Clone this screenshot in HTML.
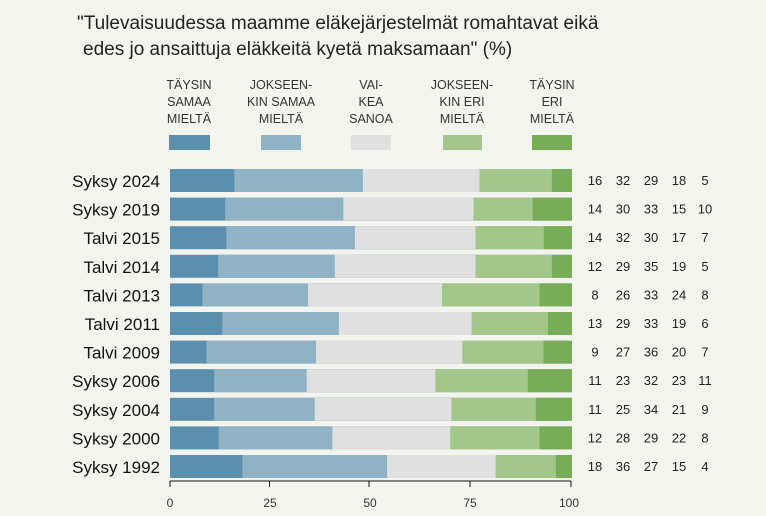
<!DOCTYPE html>
<html><head><meta charset="utf-8"><style>
body{margin:0;background:#f4f4ef;}
svg{display:block;font-family:"Liberation Sans","DejaVu Sans",sans-serif;}
.a{fill:#5a8fae}.b{fill:#8fb3c5}.c{fill:#e0e0e0}.d{fill:#a3c78a}.e{fill:#78ad58}
.n{font-size:13px;fill:#222;text-anchor:middle}
.l{font-size:17px;fill:#111;text-anchor:end}
</style></head><body>
<svg width="766" height="516" viewBox="0 0 766 516">
<rect width="766" height="516" fill="#f4f4ef"/>
<text x="77" y="29" font-size="19" fill="#222">"Tulevaisuudessa maamme eläkejärjestelmät romahtavat eikä</text>
<text x="83" y="55" font-size="19" fill="#222">edes jo ansaittuja eläkkeitä kyetä maksamaan" (%)</text>
<g font-size="12.5" fill="#333" text-anchor="middle">
<text x="189" y="89">TÄYSIN</text><text x="189" y="106">SAMAA</text><text x="189" y="123">MIELTÄ</text>
<text x="281" y="89">JOKSEEN-</text><text x="281" y="106">KIN SAMAA</text><text x="281" y="123">MIELTÄ</text>
<text x="371" y="89">VAI-</text><text x="371" y="106">KEA</text><text x="371" y="123">SANOA</text>
<text x="462" y="89">JOKSEEN-</text><text x="462" y="106">KIN ERI</text><text x="462" y="123">MIELTÄ</text>
<text x="552" y="89">TÄYSIN</text><text x="552" y="106">ERI</text><text x="552" y="123">MIELTÄ</text>
</g>
<rect x="169" y="135" width="41" height="15" class="a"/>
<rect x="261" y="135" width="40" height="15" class="b"/>
<rect x="351" y="135" width="40" height="15" class="c"/>
<rect x="443" y="135" width="39" height="15" class="d"/>
<rect x="532" y="135" width="40" height="15" class="e"/>

<!-- rows: layered rects from x_k to 572 -->
<g transform="translate(0,169)"><rect x="170" width="402" height="23" class="a"/><rect x="234.3" width="337.7" height="23" class="b"/><rect x="362.9" width="209.1" height="23" class="c"/><rect x="479.5" width="92.5" height="23" class="d"/><rect x="551.9" width="20.1" height="23" class="e"/>
<text x="160" y="18" class="l">Syksy 2024</text><text x="595" y="16" class="n">16</text><text x="623" y="16" class="n">32</text><text x="651" y="16" class="n">29</text><text x="679" y="16" class="n">18</text><text x="705" y="16" class="n">5</text></g>

<g transform="translate(0,197.6)"><rect x="170" width="402" height="23" class="a"/><rect x="225.2" width="346.8" height="23" class="b"/><rect x="343.4" width="228.6" height="23" class="c"/><rect x="473.5" width="98.5" height="23" class="d"/><rect x="532.6" width="39.4" height="23" class="e"/>
<text x="160" y="18" class="l">Syksy 2019</text><text x="595" y="16" class="n">14</text><text x="623" y="16" class="n">30</text><text x="651" y="16" class="n">33</text><text x="679" y="16" class="n">15</text><text x="705" y="16" class="n">10</text></g>

<g transform="translate(0,226.2)"><rect x="170" width="402" height="23" class="a"/><rect x="226.3" width="345.7" height="23" class="b"/><rect x="354.9" width="217.1" height="23" class="c"/><rect x="475.5" width="96.5" height="23" class="d"/><rect x="543.8" width="28.2" height="23" class="e"/>
<text x="160" y="18" class="l">Talvi 2015</text><text x="595" y="16" class="n">14</text><text x="623" y="16" class="n">32</text><text x="651" y="16" class="n">30</text><text x="679" y="16" class="n">17</text><text x="705" y="16" class="n">7</text></g>

<g transform="translate(0,254.8)"><rect x="170" width="402" height="23" class="a"/><rect x="218.2" width="353.8" height="23" class="b"/><rect x="334.8" width="237.2" height="23" class="c"/><rect x="475.5" width="96.5" height="23" class="d"/><rect x="551.9" width="20.1" height="23" class="e"/>
<text x="160" y="18" class="l">Talvi 2014</text><text x="595" y="16" class="n">12</text><text x="623" y="16" class="n">29</text><text x="651" y="16" class="n">35</text><text x="679" y="16" class="n">19</text><text x="705" y="16" class="n">5</text></g>

<g transform="translate(0,283.4)"><rect x="170" width="402" height="23" class="a"/><rect x="202.5" width="369.5" height="23" class="b"/><rect x="308.1" width="263.9" height="23" class="c"/><rect x="442.1" width="129.9" height="23" class="d"/><rect x="539.6" width="32.4" height="23" class="e"/>
<text x="160" y="18" class="l">Talvi 2013</text><text x="595" y="16" class="n">8</text><text x="623" y="16" class="n">26</text><text x="651" y="16" class="n">33</text><text x="679" y="16" class="n">24</text><text x="705" y="16" class="n">8</text></g>

<g transform="translate(0,312)"><rect x="170" width="402" height="23" class="a"/><rect x="222.3" width="349.7" height="23" class="b"/><rect x="338.9" width="233.1" height="23" class="c"/><rect x="471.6" width="100.4" height="23" class="d"/><rect x="548" width="24" height="23" class="e"/>
<text x="160" y="18" class="l">Talvi 2011</text><text x="595" y="16" class="n">13</text><text x="623" y="16" class="n">29</text><text x="651" y="16" class="n">33</text><text x="679" y="16" class="n">19</text><text x="705" y="16" class="n">6</text></g>

<g transform="translate(0,340.6)"><rect x="170" width="402" height="23" class="a"/><rect x="206.5" width="365.5" height="23" class="b"/><rect x="316.1" width="255.9" height="23" class="c"/><rect x="462.3" width="109.7" height="23" class="d"/><rect x="543.5" width="28.5" height="23" class="e"/>
<text x="160" y="18" class="l">Talvi 2009</text><text x="595" y="16" class="n">9</text><text x="623" y="16" class="n">27</text><text x="651" y="16" class="n">36</text><text x="679" y="16" class="n">20</text><text x="705" y="16" class="n">7</text></g>

<g transform="translate(0,369.2)"><rect x="170" width="402" height="23" class="a"/><rect x="214.2" width="357.8" height="23" class="b"/><rect x="306.7" width="265.3" height="23" class="c"/><rect x="435.3" width="136.7" height="23" class="d"/><rect x="527.8" width="44.2" height="23" class="e"/>
<text x="160" y="18" class="l">Syksy 2006</text><text x="595" y="16" class="n">11</text><text x="623" y="16" class="n">23</text><text x="651" y="16" class="n">32</text><text x="679" y="16" class="n">23</text><text x="705" y="16" class="n">11</text></g>

<g transform="translate(0,397.8)"><rect x="170" width="402" height="23" class="a"/><rect x="214.2" width="357.8" height="23" class="b"/><rect x="314.7" width="257.3" height="23" class="c"/><rect x="451.4" width="120.6" height="23" class="d"/><rect x="535.8" width="36.2" height="23" class="e"/>
<text x="160" y="18" class="l">Syksy 2004</text><text x="595" y="16" class="n">11</text><text x="623" y="16" class="n">25</text><text x="651" y="16" class="n">34</text><text x="679" y="16" class="n">21</text><text x="705" y="16" class="n">9</text></g>

<g transform="translate(0,426.4)"><rect x="170" width="402" height="23" class="a"/><rect x="218.7" width="353.3" height="23" class="b"/><rect x="332.4" width="239.6" height="23" class="c"/><rect x="450.2" width="121.8" height="23" class="d"/><rect x="539.5" width="32.5" height="23" class="e"/>
<text x="160" y="18" class="l">Syksy 2000</text><text x="595" y="16" class="n">12</text><text x="623" y="16" class="n">28</text><text x="651" y="16" class="n">29</text><text x="679" y="16" class="n">22</text><text x="705" y="16" class="n">8</text></g>

<g transform="translate(0,455)"><rect x="170" width="402" height="23" class="a"/><rect x="242.4" width="329.6" height="23" class="b"/><rect x="387.1" width="184.9" height="23" class="c"/><rect x="495.6" width="76.4" height="23" class="d"/><rect x="555.9" width="16.1" height="23" class="e"/>
<text x="160" y="18" class="l">Syksy 1992</text><text x="595" y="16" class="n">18</text><text x="623" y="16" class="n">36</text><text x="651" y="16" class="n">27</text><text x="679" y="16" class="n">15</text><text x="705" y="16" class="n">4</text></g>

<line x1="170" y1="481" x2="571" y2="481" stroke="#111" stroke-width="1"/>
<g stroke="#111"><line x1="170" y1="481" x2="170" y2="487"/><line x1="269.5" y1="481" x2="269.5" y2="487"/><line x1="369" y1="481" x2="369" y2="487"/><line x1="470" y1="481" x2="470" y2="487"/><line x1="571" y1="481" x2="571" y2="487"/></g>
<g font-size="12" fill="#333" text-anchor="middle"><text x="170" y="507">0</text><text x="270" y="507">25</text><text x="370" y="507">50</text><text x="470" y="507">75</text><text x="569" y="507">100</text></g>
</svg>
</body></html>
